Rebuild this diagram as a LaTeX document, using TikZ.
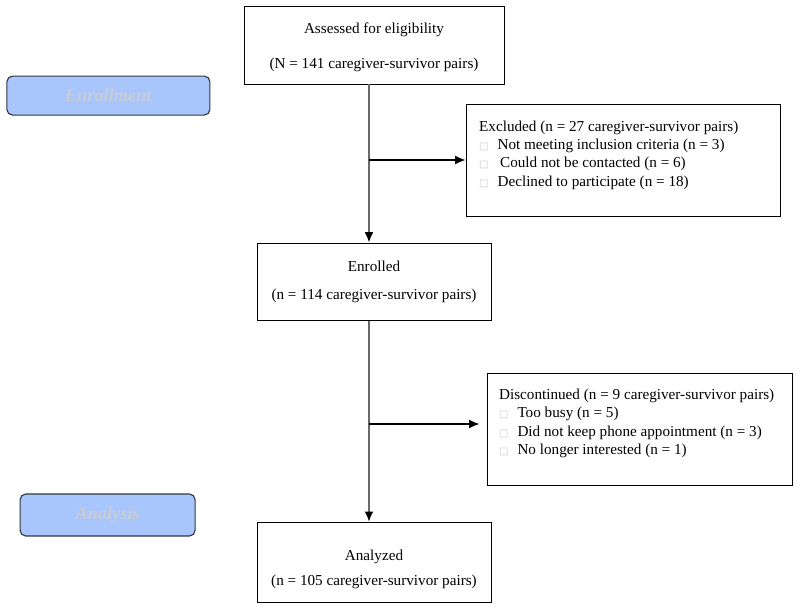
\documentclass[tikz,border=0pt]{standalone}
\usepackage{fontspec}
\setmainfont{Liberation Serif}
\newfontfamily\boxglyph{DejaVu Sans}
\usepackage{tikz}
\usetikzlibrary{calc, arrows.meta}

\definecolor{labelblue}{RGB}{168,198,252}
\definecolor{labeltext}{RGB}{200,204,214}
\definecolor{labeledge}{RGB}{50,55,65}
\definecolor{trunkgray}{RGB}{105,105,105}
\newcommand{\itm}{{\boxglyph\color{gray!45}\fontsize{7}{8}\selectfont □}\hspace{0.6em}}

\tikzset{
  flowbox/.style={shape=rectangle, draw=black, line width=0.7pt, align=center,
    font=\fontsize{10.8}{13}\selectfont},
  sidebox/.style={shape=rectangle, draw=black, line width=0.7pt, inner sep=0pt,
    font=\fontsize{10.8}{13}\selectfont},
  phase/.style={shape=rectangle, rounded corners=4pt, draw=labeledge, line width=0.8pt,
    fill=labelblue, text=labeltext, font=\fontsize{13}{15}\selectfont\bfseries\itshape},
  trunk/.style={draw=trunkgray, line width=1.3pt, -{Latex[length=2.6mm, width=2.2mm, color=black]}},
  branch/.style={draw=black, line width=0.8pt, -{Latex[length=2.6mm, width=2.2mm]}}
}

\begin{document}
\begin{tikzpicture}
                \useasboundingbox (0, 0) rectangle (20, -15.275);
                \node[flowbox, minimum width=6.5cm, minimum height=1.95cm] (A) at (9.35, -1.125)
                  {\rule{0pt}{11pt}Assessed for eligibility\\[12pt](N = 141 caregiver-survivor pairs)};
                \node[phase, minimum width=5.075cm, minimum height=0.975cm] (P) at (2.71, -2.39) {Enrollment};
                \node[sidebox, minimum width=7.85cm, minimum height=2.8cm] (E) at (15.575, -4.0)
                  {\begin{minipage}[c][2.8cm][t]{7.85cm}\vspace{0.42cm}%
                   \leftskip=0.33cm\parindent=0pt
                   Excluded (n = 27 caregiver-survivor pairs)\\
                   \itm Not meeting inclusion criteria (n = 3)\\
                   \itm\,Could not be contacted (n = 6)\\
                   \itm Declined to participate (n = 18)\end{minipage}};
                \node[flowbox, minimum width=5.85cm, minimum height=1.925cm] (C) at (9.35, -7.04)
                  {Enrolled\\[7pt](n = 114 caregiver-survivor pairs)};
                \node[sidebox, minimum width=7.625cm, minimum height=2.8cm] (F) at (15.99, -10.725)
                  {\begin{minipage}[c][2.8cm][t]{7.625cm}\vspace{0.4cm}%
                   \leftskip=0.3cm\parindent=0pt
                   Discontinued (n = 9 caregiver-survivor pairs)\\
                   \itm Too busy (n = 5)\\
                   \itm Did not keep phone appointment (n = 3)\\
                   \itm No longer interested (n = 1)\end{minipage}};
                \node[phase, minimum width=4.375cm, minimum height=1.05cm] (Q) at (2.69, -12.875) {Analysis};
                \node[flowbox, minimum width=5.85cm, minimum height=2.0cm] (G) at (9.35, -14.06)
                  {\rule{0pt}{17pt}Analyzed\\[5pt](n = 105 caregiver-survivor pairs)};
                % branch points on the trunk
                \coordinate (J1) at (9.225, -4.0);
                \coordinate (J2) at (9.225, -10.6);
                \draw[trunk] (A.south -| J1) -- (C.north -| J1);
                \draw[trunk] (C.south -| J2) -- (G.north -| J2);
                \draw[branch] (J1) -- (J1 -| E.west);
                \draw[branch] (J2) -- ($(J2 -| F.west) + (-0.18, 0)$);
\end{tikzpicture}
\end{document}
